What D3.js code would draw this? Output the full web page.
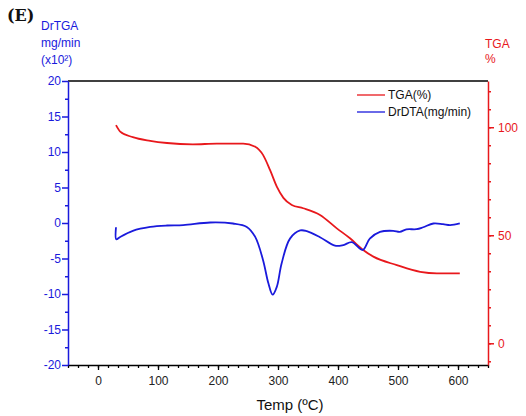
<!DOCTYPE html>
<html><head><meta charset="utf-8">
<script src="https://cdn.jsdelivr.net/npm/d3@7/dist/d3.min.js"></script>
<style>body{margin:0;background:#fff}svg{display:block;font-family:"Liberation Sans",Arial,sans-serif}</style>
</head><body><svg id="c" width="526" height="416"></svg>
<script>
// Data
const tgaTemp = [30, 37, 58, 87, 115, 158, 198, 242, 262, 275, 287, 298, 309, 323, 342, 370, 398, 420, 442, 459, 498, 537, 565, 603];
const tgaPct  = [101, 98, 95.4, 93.7, 92.7, 92.1, 92.4, 92.4, 91, 87.2, 80, 72.5, 67.3, 64, 62.5, 59.4, 53.2, 48.6, 43.2, 40.1, 36.2, 33.1, 32.4, 32.4];
const dtgTemp = [30, 30.5, 37, 58, 87, 115, 142, 187, 225, 248, 262, 275, 284, 291, 298, 306, 320, 337, 348, 370, 395, 409, 423, 441, 453, 470, 492, 503, 514, 531, 542, 559, 575, 587, 603];
const dtgVal  = [-0.6, -2.3, -1.96, -1.1, -0.55, -0.35, -0.3, 0.07, -0.07, -0.55, -1.96, -5.2, -8.5, -10.1, -9, -5.7, -2.2, -1.05, -1.15, -2, -3.2, -3.1, -2.7, -3.8, -2.2, -1.25, -1.1, -1.25, -0.9, -0.87, -0.6, -0.07, -0.17, -0.3, -0.07];
const xTicks = [0, 100, 200, 300, 400, 500, 600];
const leftTicks = [20, 15, 10, 5, 0, -5, -10, -15, -20];
const rightTicks = [0, 50, 100];
const legendLabels = ["TGA(%)", "DrDTA(mg/min)"];

const svg = d3.select("#c");
const L = 68, R = 488, T = 81, B = 365;
const RED = "#e8181c", BLUE = "#1a1adc";
const fmt = d => String(d);

const x = d3.scaleLinear().domain([-50, 650]).range([L, R]);
const yL = d3.scaleLinear().domain([-20, 20]).range([B, T]);
const yR = d3.scaleLinear().domain([-10.05, 121.4]).range([B, T]);

// top border
svg.append("line").attr("x1", L).attr("x2", R).attr("y1", T).attr("y2", T).attr("stroke", "#000").attr("stroke-width", 1.3);

// x axis
const xMinor = d3.range(-50, 651, 100/6).filter(v => v <= 650.01);
const gx = svg.append("g").attr("transform", `translate(0,${B})`);
gx.append("g").call(d3.axisBottom(x).tickValues(xMinor).tickSize(3).tickFormat("")).call(g => g.select(".domain").remove());
gx.append("g").call(d3.axisBottom(x).tickValues(xTicks).tickSize(5).tickSizeOuter(0).tickPadding(6).tickFormat(fmt))
  .call(g => g.selectAll("text").attr("font-size", 12).attr("fill", "#222").attr("font-family", "Liberation Sans, Arial"));
gx.selectAll("line,path").attr("stroke", "#000").attr("stroke-width", 1.3);

// left axis
const gl = svg.append("g").attr("transform", `translate(${L},0)`);
gl.append("g").call(d3.axisLeft(yL).tickValues(d3.range(-17.5, 20, 5)).tickSize(3).tickFormat("")).call(g => g.select(".domain").remove());
gl.append("g").call(d3.axisLeft(yL).tickValues(leftTicks).tickSize(6).tickSizeOuter(0).tickPadding(1).tickFormat(fmt))
  .call(g => g.selectAll("text").attr("font-size", 12).attr("fill", BLUE).attr("font-family", "Liberation Sans, Arial"));
gl.selectAll("line,path").attr("stroke", BLUE).attr("stroke-width", 1.5);

// right axis
const rMinor = d3.range(-50/6, 121, 50/6);
const gr = svg.append("g").attr("transform", `translate(${R},0)`);
gr.append("g").call(d3.axisRight(yR).tickValues(rMinor).tickSize(3).tickFormat("")).call(g => g.select(".domain").remove());
gr.append("g").call(d3.axisRight(yR).tickValues(rightTicks).tickSize(6).tickSizeOuter(0).tickPadding(4).tickFormat(fmt))
  .call(g => g.selectAll("text").attr("font-size", 12).attr("fill", RED).attr("font-family", "Liberation Sans, Arial"));
gr.selectAll("line,path").attr("stroke", RED).attr("stroke-width", 1.5);

// curves
const tga = tgaTemp.map((t, i) => [t, tgaPct[i]]);
const dtg = dtgTemp.map((t, i) => [t, dtgVal[i]]);
svg.append("path").datum(tga).attr("fill", "none").attr("stroke", RED).attr("stroke-width", 1.8)
  .attr("d", d3.line().x(d => x(d[0])).y(d => yR(d[1])).curve(d3.curveMonotoneX));
svg.append("path").datum(dtg).attr("fill", "none").attr("stroke", BLUE).attr("stroke-width", 1.8)
  .attr("d", d3.line().x(d => x(d[0])).y(d => yL(d[1])).curve(d3.curveCatmullRom.alpha(0.5)));

// legend
const lg = svg.append("g");
[[RED, 95], [BLUE, 112]].forEach(([c, yy], i) => {
  lg.append("line").attr("x1", 357).attr("x2", 385).attr("y1", yy).attr("y2", yy).attr("stroke", c).attr("stroke-width", 1.3);
  lg.append("text").attr("x", 388).attr("y", yy + 4).attr("font-size", 12).attr("fill", "#111").text(legendLabels[i]);
});

// titles
svg.append("text").attr("x", 7).attr("y", 21).attr("font-family", "DejaVu Serif, serif").attr("font-weight", "bold").attr("font-size", 16).attr("fill", "#111").text("(E)");
const lt = svg.append("g").attr("fill", BLUE).attr("font-size", 12);
lt.append("text").attr("x", 41).attr("y", 30).text("DrTGA");
lt.append("text").attr("x", 41).attr("y", 47).text("mg/min");
lt.append("text").attr("x", 41).attr("y", 64).text("(x10²)");
const rt = svg.append("g").attr("fill", RED).attr("font-size", 12);
rt.append("text").attr("x", 485).attr("y", 48).text("TGA");
rt.append("text").attr("x", 485).attr("y", 63).text("%");
svg.append("text").attr("x", 290).attr("y", 410).attr("text-anchor", "middle").attr("font-size", 15).attr("fill", "#111").text("Temp (ºC)");
</script></body></html>
